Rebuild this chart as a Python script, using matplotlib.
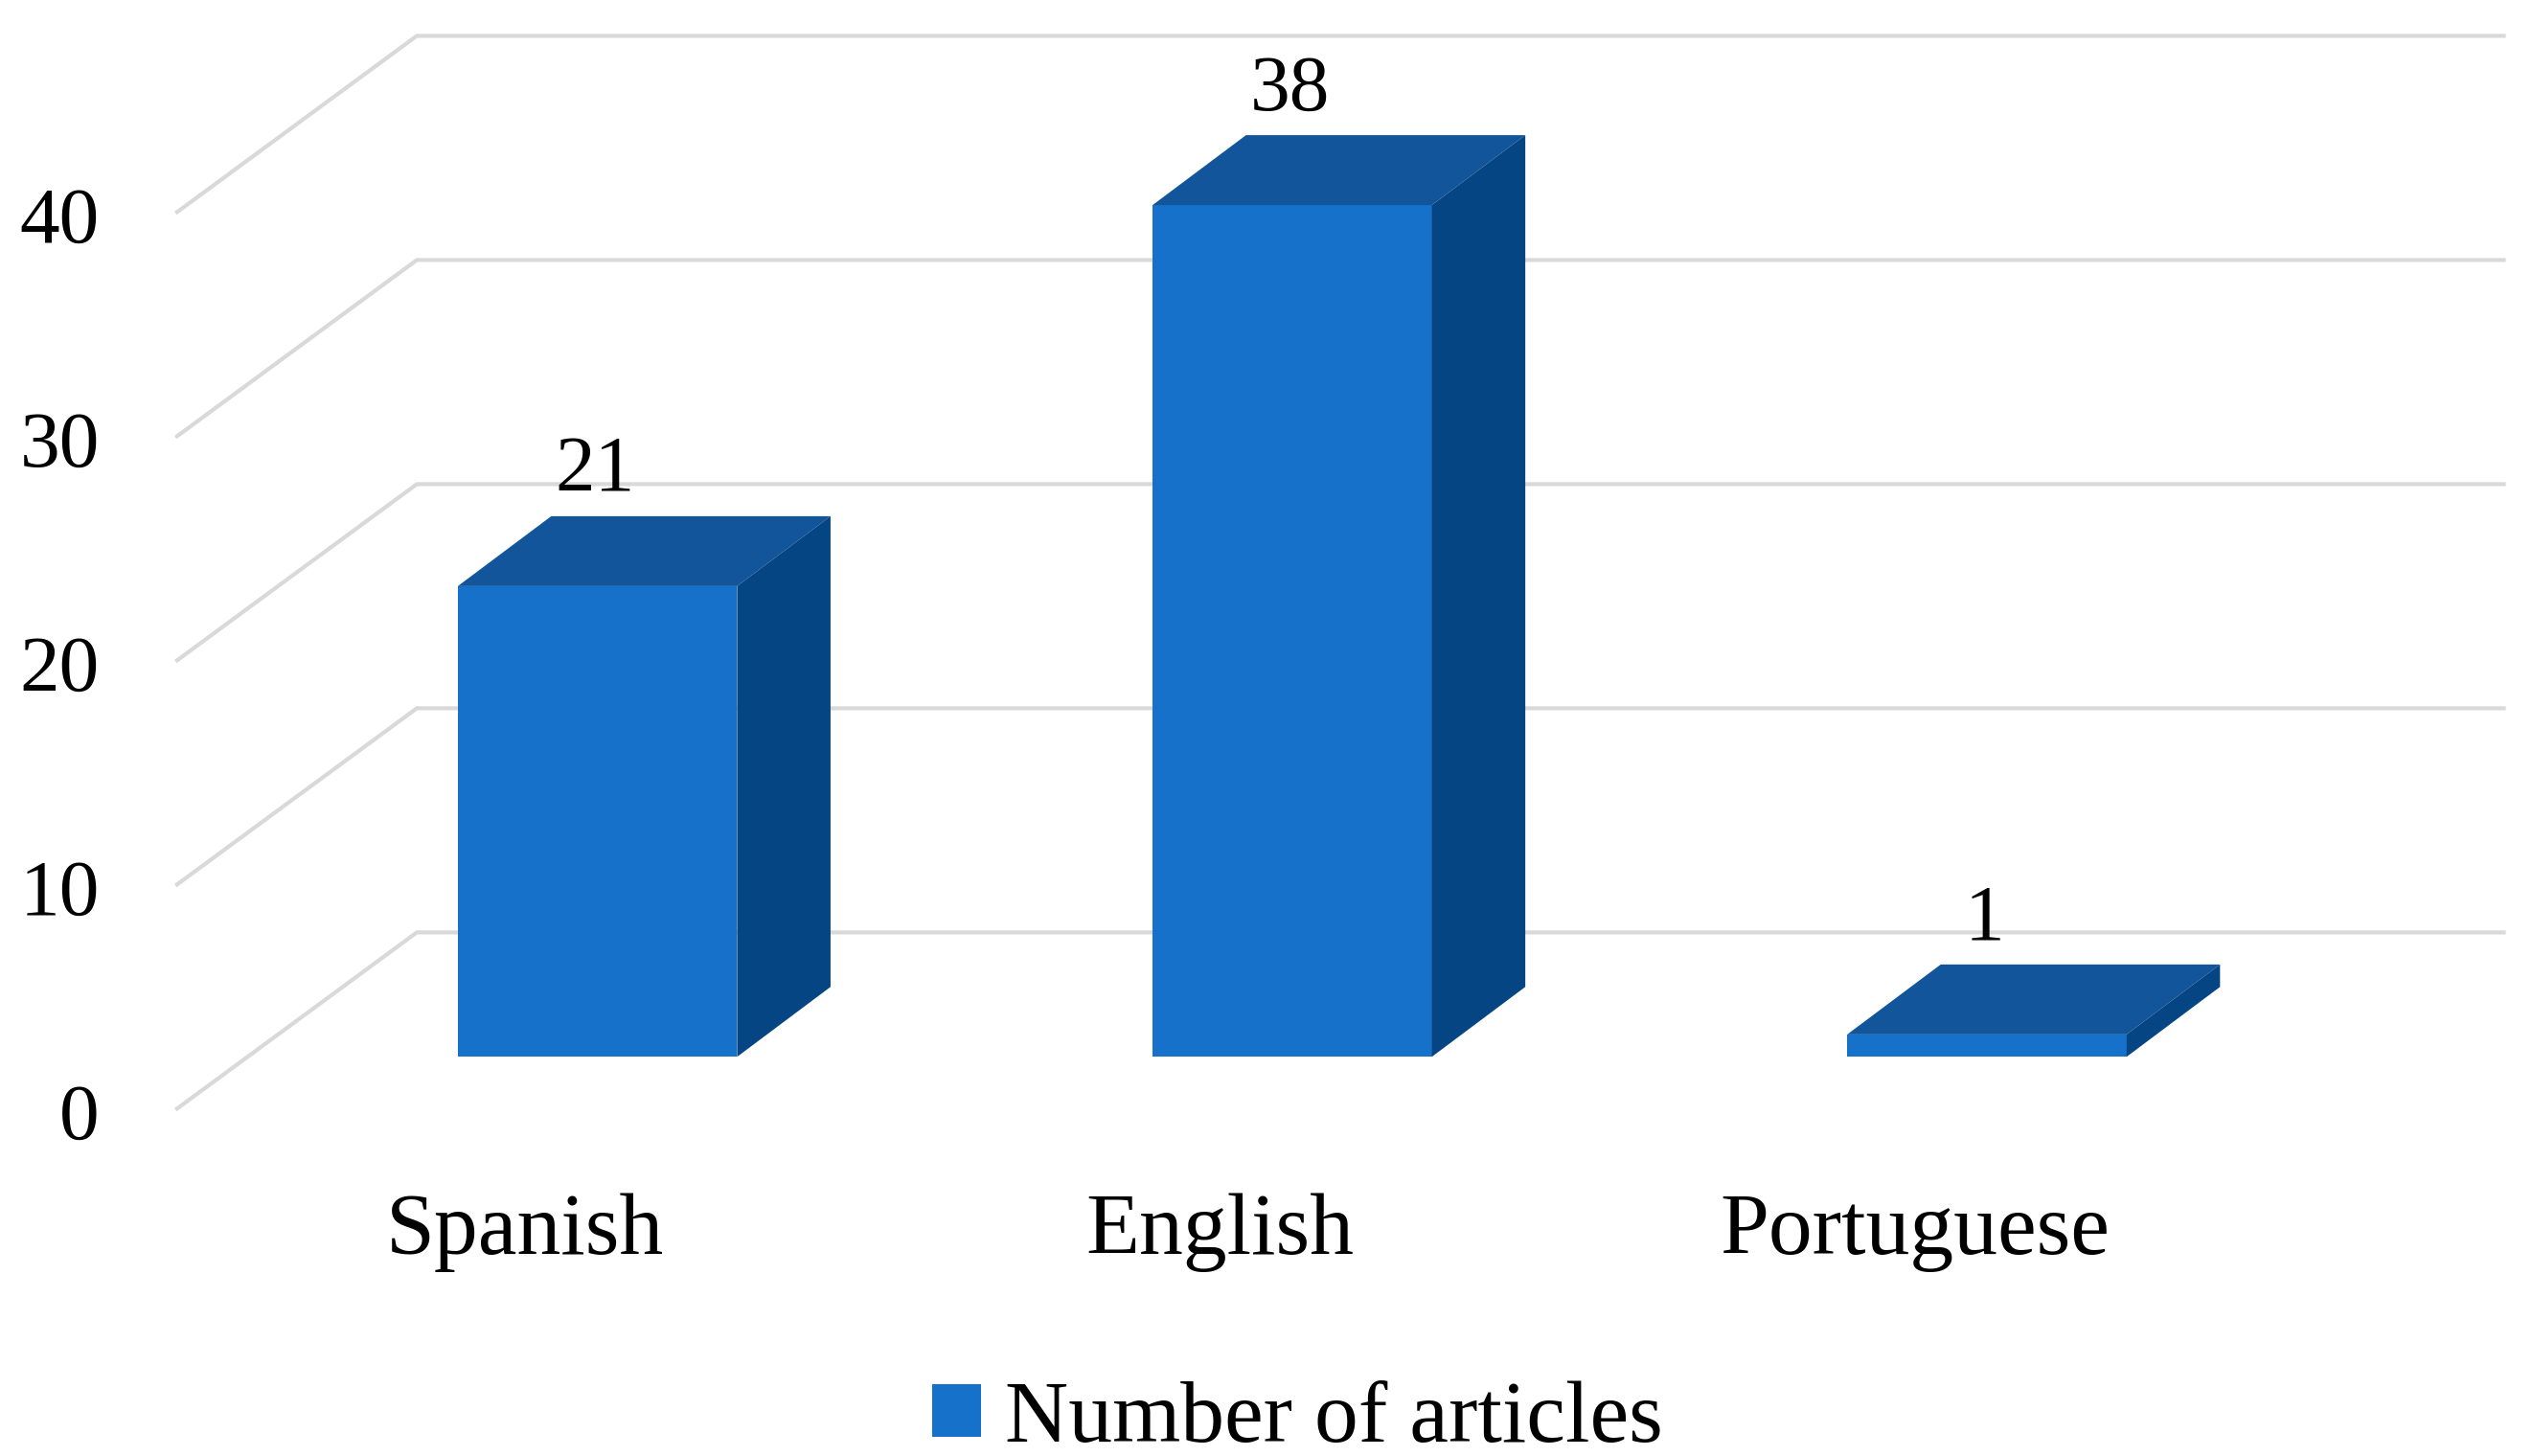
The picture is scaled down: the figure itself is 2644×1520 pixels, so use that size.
import matplotlib
matplotlib.use("Agg")
import matplotlib.pyplot as plt
from matplotlib.patches import Polygon, Patch

# ========== DATA ==========

categories = ["Spanish", "English", "Portuguese"]
articles = [21, 38, 1]
y_ticks = [0, 10, 20, 30, 40]
series_name = "Number of articles"

# ========== STYLE ==========

plt.rcParams["font.family"] = ["Liberation Serif", "DejaVu Serif"]
FONT = 66
NUM_FONT = 60
FRONT = "#1671CB"
TOP = "#12559B"
SIDE = "#064583"
GRID = "#D9D9D9"

bar_width = 0.402
depth_x, depth_y = 0.1345, 3.12  # oblique offset of the bar depth

# wall corners, relative to the bar plane
wall_front_x, wall_front_y = -0.605, -2.31
wall_back_x, wall_back_y = -0.26, 5.55
wall_right_x = 2.744

fig = plt.figure(figsize=(26.44, 15.2), dpi=100)
ax = fig.add_axes([0, 0, 1, 1])
ax.set_xlim(-0.860, 2.786)
ax.set_ylim(-17.81, 47.15)
ax.axis("off")

# ========== GRID ==========

for tick in y_ticks:
    ax.plot([wall_front_x, wall_back_x, wall_right_x],
            [tick + wall_front_y, tick + wall_back_y, tick + wall_back_y],
            color=GRID, lw=3.0, solid_joinstyle="miter", zorder=1)
    ax.text(-0.717, tick + wall_front_y - 0.12, str(tick), fontsize=NUM_FONT,
            ha="right", va="center_baseline", color="black", zorder=5)

# ========== BARS ==========

x = list(range(len(categories)))
ax.bar(x, articles, width=bar_width, color=FRONT, linewidth=0, zorder=3)

for pos, val in zip(x, articles):
    left, right = pos - bar_width / 2, pos + bar_width / 2
    ax.add_patch(Polygon([(left, val), (right, val),
                          (right + depth_x, val + depth_y), (left + depth_x, val + depth_y)],
                         closed=True, facecolor=TOP, edgecolor="none", zorder=3))
    ax.add_patch(Polygon([(right, 0), (right, val),
                          (right + depth_x, val + depth_y), (right + depth_x, depth_y)],
                         closed=True, facecolor=SIDE, edgecolor="none", zorder=3))
    ax.text(pos - 0.003, val + 4.25, str(val), fontsize=NUM_FONT, ha="center", va="baseline",
            color="black", zorder=5)

# ========== LABELING ==========

for pos, name in zip(x, categories):
    ax.text(pos - 0.104, -8.8, name, fontsize=FONT, ha="center", va="baseline", color="black")

ax.legend(handles=[Patch(facecolor=FRONT, edgecolor="none", label=series_name)],
          loc="center", bbox_to_anchor=(1.008, -16.2), bbox_transform=ax.transData,
          frameon=False, fontsize=FONT, handlelength=0.55, handleheight=0.55,
          handletextpad=0.28, borderpad=0, borderaxespad=0)

fig.savefig("out.png", dpi=100, facecolor="white")
